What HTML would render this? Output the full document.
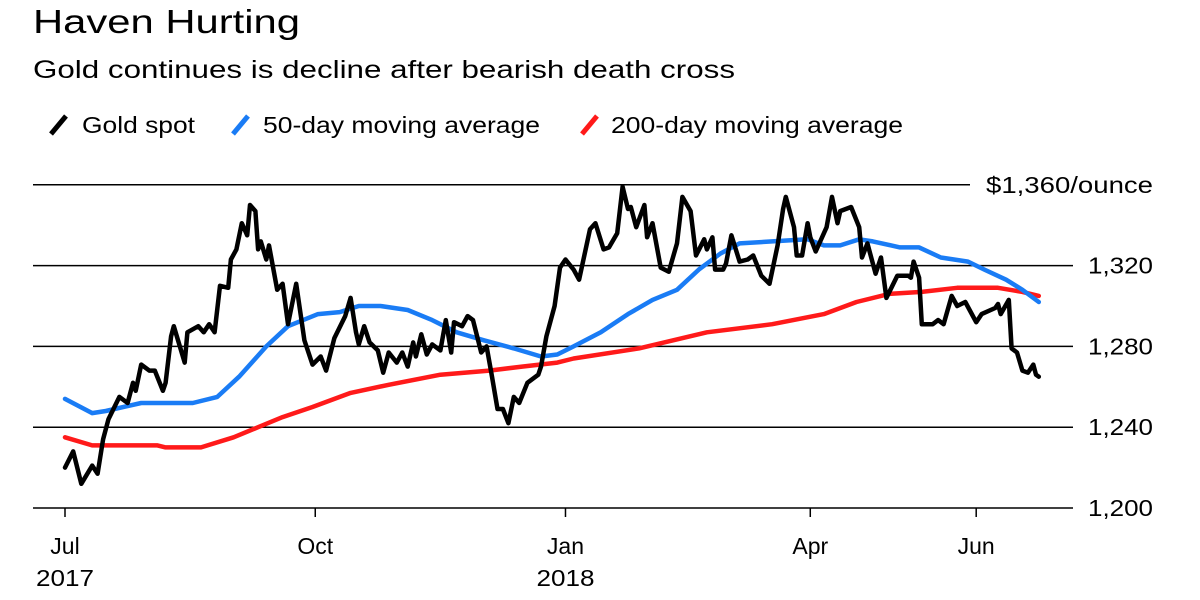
<!DOCTYPE html>
<html><head><meta charset="utf-8"><style>
body{margin:0;background:#fff;width:1200px;height:600px;overflow:hidden;font-family:"Liberation Sans",sans-serif}
svg{position:absolute;left:0;top:0}
</style></head><body>
<svg id="chart" width="1200" height="600">
<text x="33" y="33" font-size="33" textLength="267" lengthAdjust="spacingAndGlyphs">Haven Hurting</text>
<text x="33" y="78" font-size="25" textLength="702" lengthAdjust="spacingAndGlyphs">Gold continues is decline after bearish death cross</text>
<g font-size="23">
<g><line x1="51" y1="134" x2="66" y2="116" stroke="#000" stroke-width="5"/><text x="82" y="133" textLength="113" lengthAdjust="spacingAndGlyphs">Gold spot</text></g>
<g><line x1="233" y1="134" x2="248" y2="116" stroke="#1a7cf5" stroke-width="5"/><text x="263" y="133" textLength="277" lengthAdjust="spacingAndGlyphs">50-day moving average</text></g>
<g><line x1="582" y1="134" x2="597" y2="116" stroke="#ff1a1a" stroke-width="5"/><text x="611" y="133" textLength="292" lengthAdjust="spacingAndGlyphs">200-day moving average</text></g>
</g>
<g id="grid"></g><g id="xaxis"></g><g id="series"></g>
</svg>
<script>
const yTicks=[1200,1240,1280,1320,1360];
const yTickLabels=["1,200","1,240","1,280","1,320","$1,360/ounce"];
const xTickDays=[0,92,184,274,335];
const xTickLabels=["Jul","Oct","Jan","Apr","Jun"];
const xYearLabels=["2017","","2018","",""];
const spotDays=[0,3,6,10,12,14,16,20,23,25,26,28,31,33,36,37,39,40,44,45,49,51,53,55,57,60,61,63,65,67,68,70,71,72,74,75,78,80,82,85,88,91,94,96,99,103,105,107,108,110,112,115,117,119,122,124,126,128,129,131,133,135,138,140,142,143,146,148,150,153,155,157,159,161,163,165,167,170,174,175,177,180,182,184,187,189,193,195,198,200,203,205,207,208,210,213,214,216,219,222,225,227,230,232,235,236,238,239,242,243,245,248,251,253,256,259,262,264,265,268,269,271,273,274,276,280,282,284,285,289,292,293,295,298,300,302,306,310,311,312,314,315,319,321,323,326,328,331,335,337,342,343,344,347,348,350,352,354,356,357,358];
const spotValues=[1220,1228,1212,1221,1217,1234,1244,1255,1252,1262,1258,1271,1268,1268,1258,1262,1285,1290,1272,1287,1290,1287,1291,1287,1310,1309,1323,1328,1341,1335,1350,1347,1328,1332,1323,1330,1308,1311,1291,1311,1283,1271,1275,1268,1284,1295,1304,1287,1281,1290,1282,1278,1267,1277,1272,1277,1270,1282,1275,1286,1276,1281,1278,1293,1277,1292,1290,1295,1293,1277,1280,1265,1249,1249,1242,1255,1252,1262,1266,1270,1285,1300,1319,1323,1318,1313,1338,1341,1328,1329,1336,1359,1348,1349,1339,1350,1334,1341,1319,1317,1331,1354,1347,1325,1333,1328,1334,1318,1318,1321,1335,1322,1323,1325,1315,1311,1330,1348,1354,1339,1325,1325,1341,1334,1327,1339,1354,1341,1347,1349,1339,1324,1331,1316,1324,1304,1315,1315,1314,1322,1314,1291,1291,1293,1291,1305,1300,1302,1292,1296,1299,1301,1296,1303,1279,1277,1268,1267,1271,1266,1265];
const ma50Days=[0,10,15,28,40,47,56,64,74,82,93,101,108,116,126,135,144,154,165,175,181,187,197,207,216,225,233,241,248,260,273,279,285,292,297,307,314,322,332,338,346,352,358];
const ma50Values=[1254,1247,1248,1252,1252,1252,1255,1265,1280,1290,1296,1297,1300,1300,1298,1293,1287,1283,1279,1275,1276,1280,1287,1296,1303,1308,1318,1326,1331,1332,1333,1330,1330,1333,1332,1329,1329,1324,1322,1318,1313,1308,1302];
const ma200Days=[0,10,34,37,50,62,71,80,91,105,119,138,156,168,181,187,211,236,260,279,291,303,315,328,343,352,358];
const ma200Values=[1235,1231,1231,1230,1230,1235,1240,1245,1250,1257,1261,1266,1268,1270,1272,1274,1279,1287,1291,1296,1302,1306,1307,1309,1309,1307,1305];

const NS="http://www.w3.org/2000/svg";
const xS=d=>65+d*2.72;
const yS=v=>508-(v-1200)*2.02;
function mk(tag,attrs,parent){const e=document.createElementNS(NS,tag);for(const k in attrs)e.setAttribute(k,attrs[k]);parent.appendChild(e);return e;}
const grid=document.getElementById('grid'),xa=document.getElementById('xaxis'),ser=document.getElementById('series');
yTicks.forEach((v,i)=>{
  const last=i===yTicks.length-1;
  const l=mk('line',{x1:33,x2:last?970:1073,y1:yS(v),y2:yS(v),stroke:'#000','stroke-width':1.5},grid);
  
  
  const t=mk('text',{x:last?986:1088,y:yS(v)+8,'font-size':23,textLength:last?167:65,lengthAdjust:'spacingAndGlyphs'},grid);
  t.textContent=yTickLabels[i];
  
  
});
xTickDays.forEach((d,i)=>{
  const l=mk('line',{x1:xS(d),x2:xS(d),y1:508,y2:517,stroke:'#000','stroke-width':1.5},xa);
  
  
  const t=mk('text',{x:xS(d),y:554,'font-size':23,'text-anchor':'middle'},xa);
  t.textContent=xTickLabels[i];
  
  
  if(xYearLabels[i]){
    const y=mk('text',{x:xS(d),y:586,'font-size':23,'text-anchor':'middle',textLength:58,lengthAdjust:'spacingAndGlyphs'},xa);
    y.textContent=xYearLabels[i];
    
    
  }
});
function line(days,vals,color,name){
  const p=mk('path',{d:days.map((d,i)=>(i?'L':'M')+xS(d).toFixed(1)+','+yS(vals[i]).toFixed(1)).join(''),fill:'none',stroke:color,'stroke-width':4.5,'stroke-linejoin':'round','stroke-linecap':'round'},ser);
  
  
}
line(ma200Days,ma200Values,'#ff1a1a','ma200-line');
line(ma50Days,ma50Values,'#1a7cf5','ma50-line');
line(spotDays,spotValues,'#000','gold-spot-line');
</script>
</body></html>
